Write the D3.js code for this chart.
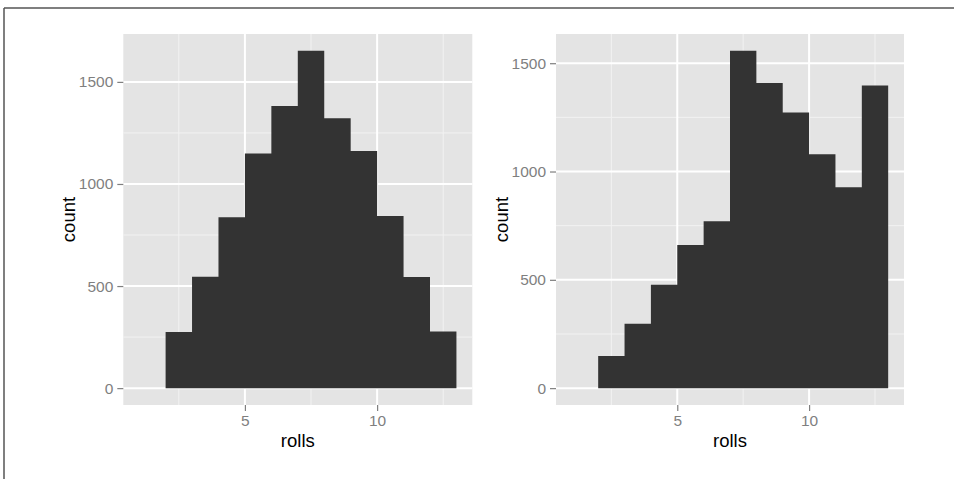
<!DOCTYPE html>
<html>
<head>
<meta charset="utf-8">
<script src="https://cdn.jsdelivr.net/npm/d3@7"></script>
<style>
html,body{margin:0;padding:0;background:#fff;}
svg{display:block;}
text{font-family:"Liberation Sans",Arial,Helvetica,sans-serif;}
</style>
</head>
<body>
<svg id="chart" width="954" height="479"></svg>
<script>
// ---- data ----
const binStarts = [1, 2, 3, 4, 5, 6, 7, 8, 9, 10, 11, 12];
const binWidth = 1;
const countsFair     = [0, 275, 546, 837, 1149, 1382, 1652, 1322, 1162, 843, 544, 278];
const countsWeighted = [0, 148, 297, 477, 661, 770, 1557, 1409, 1272, 1080, 927, 1397];
const xTicks = [5, 10];
const yTicks = [0, 500, 1000, 1500];
const xLabel = "rolls";
const yLabel = "count";

const svg = d3.select("#chart");

// outer frame (top and left edges)
svg.append("line").attr("x1", 4).attr("x2", 954).attr("y1", 8).attr("y2", 8)
  .attr("stroke", "#555").attr("stroke-width", 1.5);
svg.append("line").attr("x1", 4).attr("x2", 4).attr("y1", 8).attr("y2", 479)
  .attr("stroke", "#555").attr("stroke-width", 1.5);

function panel(counts, box) {
  const g = svg.append("g");
  const xMin = binStarts[0], xMax = binStarts[binStarts.length - 1] + binWidth;
  const xPad = (xMax - xMin) * 0.05;
  const yMax = d3.max(counts);
  const yPad = yMax * 0.05;
  const x = d3.scaleLinear().domain([xMin - xPad, xMax + xPad]).range([box.x0, box.x1]);
  const y = d3.scaleLinear().domain([-yPad, yMax + yPad]).range([box.y1, box.y0]);

  g.append("rect").attr("x", box.x0).attr("y", box.y0)
    .attr("width", box.x1 - box.x0).attr("height", box.y1 - box.y0)
    .attr("fill", "#E4E4E4");

  // minor grid
  const xMinor = xTicks.map(t => t - 2.5).concat([xTicks[xTicks.length - 1] + 2.5])
    .filter(v => v > x.domain()[0] && v < x.domain()[1]);
  const yMinor = yTicks.map(t => t + 250).concat([yTicks[0] - 250])
    .filter(v => v > y.domain()[0] && v < y.domain()[1]);
  g.selectAll(".xminor").data(xMinor).join("line")
    .attr("x1", d => x(d)).attr("x2", d => x(d)).attr("y1", box.y0).attr("y2", box.y1)
    .attr("stroke", "#F2F2F2").attr("stroke-width", 1);
  g.selectAll(".yminor").data(yMinor).join("line")
    .attr("y1", d => y(d)).attr("y2", d => y(d)).attr("x1", box.x0).attr("x2", box.x1)
    .attr("stroke", "#F2F2F2").attr("stroke-width", 1);
  // major grid
  g.selectAll(".xmajor").data(xTicks).join("line")
    .attr("x1", d => x(d)).attr("x2", d => x(d)).attr("y1", box.y0).attr("y2", box.y1)
    .attr("stroke", "#fff").attr("stroke-width", 2);
  g.selectAll(".ymajor").data(yTicks).join("line")
    .attr("y1", d => y(d)).attr("y2", d => y(d)).attr("x1", box.x0).attr("x2", box.x1)
    .attr("stroke", "#fff").attr("stroke-width", 2);

  // histogram bars drawn as one stepped area (no seams between adjacent bins)
  const firstIdx = counts.findIndex(c => c > 0);
  const pts = binStarts.slice(firstIdx).map((s, i) => ({ s, c: counts[firstIdx + i] }));
  pts.push({ s: binStarts[binStarts.length - 1] + binWidth, c: counts[counts.length - 1] });
  const area = d3.area().curve(d3.curveStepAfter)
    .x(d => x(d.s)).y0(y(0)).y1(d => y(d.c));
  g.append("path").datum(pts).attr("d", area).attr("fill", "#333333");

  // axes
  const xAxis = d3.axisBottom(x).tickValues(xTicks).tickSize(6).tickPadding(4).tickFormat(d3.format("d"));
  const yAxis = d3.axisLeft(y).tickValues(yTicks).tickSize(6).tickPadding(4).tickFormat(d3.format("d"));
  const gx = g.append("g").attr("transform", `translate(0,${box.y1})`).call(xAxis);
  const gy = g.append("g").attr("transform", `translate(${box.x0},0)`).call(yAxis);
  [gx, gy].forEach(a => {
    a.select(".domain").remove();
    a.selectAll(".tick line").attr("stroke", "#7F7F7F").attr("stroke-width", 1.2);
    a.selectAll(".tick text").attr("fill", "#7F7F7F").attr("font-size", "15.5px")
      .style("font-family", '"Liberation Sans",Arial,sans-serif');
  });

  g.append("text").attr("x", (box.x0 + box.x1) / 2).attr("y", 447)
    .attr("text-anchor", "middle").attr("font-size", "18.5px").attr("fill", "#000")
    .text(xLabel);
  const cy = (box.y0 + box.y1) / 2;
  g.append("text").attr("transform", `translate(${box.x0 - 48},${cy}) rotate(-90)`)
    .attr("text-anchor", "middle").attr("font-size", "18.5px").attr("fill", "#000")
    .text(yLabel);
}

panel(countsFair,     { x0: 123.3, x1: 472.3, y0: 34, y1: 405 });
panel(countsWeighted, { x0: 556,   x1: 904,   y0: 34, y1: 405 });
</script>
</body>
</html>
